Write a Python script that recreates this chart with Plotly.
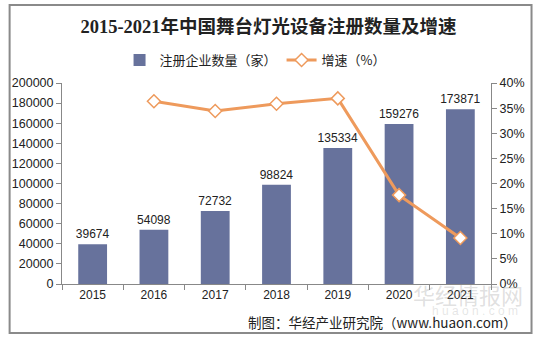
import plotly.graph_objects as go

years = ["2015", "2016", "2017", "2018", "2019", "2020", "2021"]
counts = [39674, 54098, 72732, 98824, 135334, 159276, 173871]
growth_years = ["2016", "2017", "2018", "2019", "2020", "2021"]
growth = [36.36, 34.44, 35.87, 36.94, 17.69, 9.16]
left_ticks = [0, 20000, 40000, 60000, 80000, 100000, 120000, 140000, 160000, 180000, 200000]
right_ticks = [0, 5, 10, 15, 20, 25, 30, 35, 40]
right_labels = [f"{v}%" for v in right_ticks]

bar_color = "#67729c"
line_color = "#ee9a5c"
font_num = "Liberation Sans, Arial, sans-serif"
font_cjk = "Noto Sans CJK SC, sans-serif"

fig = go.Figure()
fig.add_trace(go.Bar(
    x=years, y=counts, name="注册企业数量（家）",
    marker=dict(color=bar_color, line=dict(width=0)),
    text=[str(v) for v in counts], textposition="outside",
    textfont=dict(family=font_num, size=12, color="#222"),
    constraintext="none",
    cliponaxis=False,
))
fig.add_trace(go.Scatter(
    x=growth_years, y=growth, name="增速（%）", yaxis="y2",
    mode="lines+markers",
    line=dict(color=line_color, width=3),
    marker=dict(symbol="diamond", size=10, color="white",
                line=dict(color=line_color, width=1.5)),
    cliponaxis=False,
))

fig.update_layout(
    width=537, height=339,
    margin=dict(l=57, r=46, t=83, b=55),
    paper_bgcolor="white", plot_bgcolor="white",
    bargap=0.53,
    showlegend=True,
    legend=dict(orientation="h", x=0.45, xanchor="center", y=1.114, yanchor="middle",
                font=dict(family=font_cjk, size=13, color="#222"),
                bgcolor="rgba(0,0,0,0)", itemwidth=30, tracegroupgap=0),
    title=dict(text="<b>2015-2021年中国舞台灯光设备注册数量及增速</b>",
               x=0.5, xref="container", xanchor="center",
               y=1 - 27 / 339, yref="container", yanchor="middle",
               font=dict(family="Liberation Serif, Noto Sans CJK SC, serif", size=18.5, color="#222")),
    xaxis=dict(type="category", showline=True, linecolor="#888", linewidth=1,
               ticks="outside", tickson="boundaries", ticklen=5, tickcolor="#888",
               tickfont=dict(family=font_num, size=12, color="#222"),
               showgrid=False, zeroline=False),
    yaxis=dict(range=[0, 200000], tickvals=left_ticks, ticktext=[str(v) for v in left_ticks],
               showline=True, linecolor="#888", linewidth=1,
               ticks="outside", ticklen=5, tickcolor="#888",
               tickfont=dict(family=font_num, size=12.5, color="#222"),
               showgrid=False, zeroline=False),
    yaxis2=dict(range=[0, 40], overlaying="y", side="right",
                tickvals=right_ticks, ticktext=right_labels,
                showline=True, linecolor="#888", linewidth=1,
                ticks="outside", ticklen=5, tickcolor="#888",
                tickfont=dict(family=font_num, size=12.5, color="#222"),
                showgrid=False, zeroline=False),
    shapes=[dict(type="rect", xref="paper", yref="paper",
                 x0=-53 / 434, x1=475 / 434, y0=-49 / 201, y1=279 / 201,
                 line=dict(color="#8a8a8a", width=2), fillcolor="rgba(0,0,0,0)", layer="below")],
    annotations=[
        dict(text="华经情报网", xref="paper", yref="paper", x=(468 - 57) / 434, y=-(294 - 284) / 201,
             xanchor="center", yanchor="middle", showarrow=False,
             font=dict(family=font_cjk, size=22, color="rgba(150,150,150,0.3)")),
        dict(text="h u a o n . c o m", xref="paper", yref="paper", x=(475 - 57) / 434, y=-(311 - 284) / 201,
             xanchor="center", yanchor="middle", showarrow=False,
             font=dict(family=font_num, size=12, color="rgba(150,150,150,0.25)")),
        dict(text="制图：华经产业研究院（www.huaon.com）", xref="paper", yref="paper",
             x=(519 - 57) / 434, y=-(322 - 284) / 201, xanchor="right", yanchor="middle",
             showarrow=False, font=dict(family=font_cjk, size=13.5, color="#222")),
    ],
)

fig.write_html("out.html")
